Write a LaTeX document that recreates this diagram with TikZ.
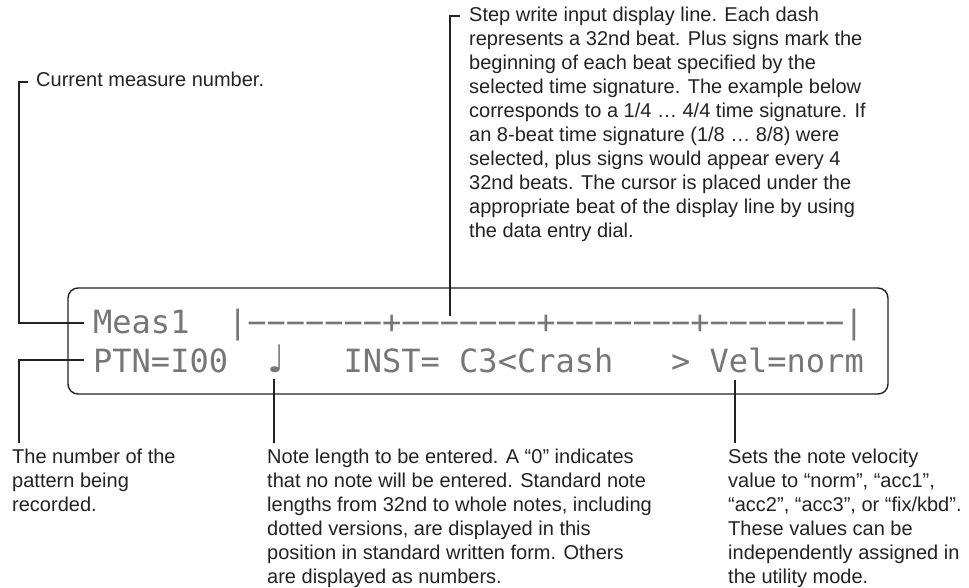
\documentclass[tikz,border=0pt]{standalone}
\usepackage{fontspec}
\setmainfont{Liberation Sans}
\newfontfamily\lcdfont{DejaVu Sans Mono}
\newfontfamily\notefont{DejaVu Sans}
\definecolor{ink}{HTML}{222222}
\definecolor{lcdink}{HTML}{767676}
\begin{document}
\begin{tikzpicture}[x=1pt,y=-1pt,
  annot/.style={anchor=base west, inner sep=0pt, align=left, text=ink, font=\fontsize{20}{24}\selectfont},
  lead/.style={draw=ink, line width=1.2pt},
  lcdrow/.style={anchor=base west, inner sep=0pt, text=lcdink, font=\lcdfont\fontsize{32}{32}\selectfont},
  lcdbox/.style={draw=ink, line width=1.4pt, rounded corners=10pt, inner sep=0pt, minimum width=820pt, minimum height=106pt}]
\path[use as bounding box] (0,0) rectangle (969,588);

% display
\node[lcdbox] (lcd) at (478,341) {};
\node[lcdrow] (row1) at (93,333) {Meas1~~|−−−−−−−+−−−−−−−+−−−−−−−+−−−−−−−|};
\node[lcdrow] (row2) at (93,372) {PTN=I00~~\makebox[19.26pt]{\notefont\fontsize{38}{38}\selectfont ♩}~~~INST=~C3<Crash~~~>~Vel=norm};

% annotations (anchored at the baseline of the last line)
\node[annot] (tcur) at (36,87) {Current measure number.};
\node[annot] (tstep) at (469,237) {Step write input display line. Each dash\\
represents a 32nd beat. Plus signs mark the\\
beginning of each beat specified by the\\
selected time signature. The example below\\
corresponds to a 1/4 … 4/4 time signature. If\\
an 8-beat time signature (1/8 … 8/8) were\\
selected, plus signs would appear every 4\\
32nd beats. The cursor is placed under the\\
appropriate beat of the display line by using\\
the data entry dial.};
\node[annot] (tptn) at (12,511) {The number of the\\pattern being\\recorded.};
\node[annot] (tlen) at (267,583) {Note length to be entered. A “0” indicates\\
that no note will be entered. Standard note\\
lengths from 32nd to whole notes, including\\
dotted versions, are displayed in this\\
position in standard written form. Others\\
are displayed as numbers.};
\node[annot] (tvel) at (728,583) {Sets the note velocity\\
value to “norm”, “acc1”,\\
“acc2”, “acc3”, or “fix/kbd”.\\
These values can be\\
independently assigned in\\
the utility mode.};

% leader coordinates
\coordinate (kcur) at (28,82);
\coordinate (jmeas) at (19,323);
\coordinate (pmeas) at (84,323);
\coordinate (pptn) at (84,360);
\coordinate (eptn) at (19,443);
\coordinate (pnote) at (274,379);
\coordinate (enote) at (274,443);
\coordinate (pvel) at (735,380);
\coordinate (evel) at (735,443);
\coordinate (kstep) at (460,16);
\coordinate (pstep) at (450,316);

% leaders
\draw[lead] (kcur) -| (jmeas) -- (pmeas);
\draw[lead] (pptn) -| (eptn);
\draw[lead] (pnote) -- (enote);
\draw[lead] (pvel) -- (evel);
\draw[lead] (kstep) -| (pstep);
\end{tikzpicture}
\end{document}
